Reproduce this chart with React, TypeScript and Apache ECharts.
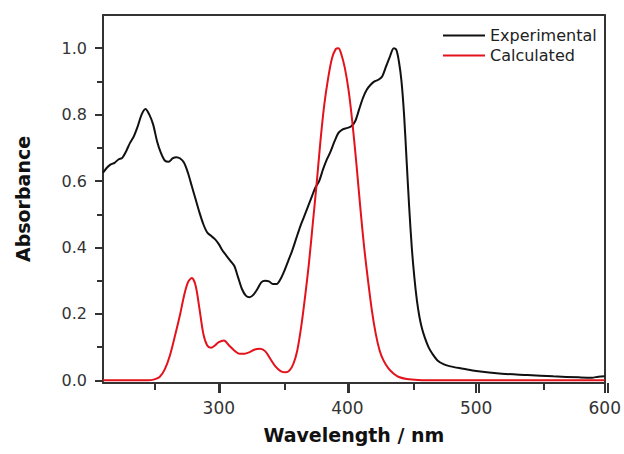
import React, { useEffect, useRef } from "react";
import * as echarts from "echarts";

const experimental: [number, number][] = [
  [210, 0.625], [213, 0.64], [216, 0.65], [219, 0.655], [222, 0.665], [225, 0.67], [228, 0.69],
  [231, 0.715], [234, 0.735], [237, 0.765], [240, 0.8], [243, 0.817], [246, 0.8], [249, 0.77],
  [252, 0.72], [255, 0.685], [258, 0.662], [261, 0.658], [264, 0.668], [267, 0.672], [270, 0.668],
  [273, 0.655], [276, 0.625], [279, 0.585], [282, 0.545], [285, 0.505], [288, 0.47], [291, 0.445],
  [294, 0.435], [297, 0.425], [300, 0.41], [303, 0.39], [306, 0.375], [309, 0.36], [312, 0.345],
  [315, 0.31], [318, 0.275], [321, 0.255], [324, 0.25], [327, 0.258], [330, 0.275], [333, 0.295],
  [336, 0.3], [339, 0.298], [342, 0.29], [345, 0.29], [348, 0.305], [351, 0.33], [354, 0.36],
  [357, 0.39], [360, 0.425], [363, 0.46], [366, 0.49], [369, 0.52], [372, 0.55], [375, 0.58],
  [378, 0.6], [381, 0.635], [384, 0.665], [387, 0.69], [390, 0.72], [393, 0.745], [396, 0.755],
  [400, 0.76], [403, 0.765], [406, 0.78], [409, 0.815], [412, 0.85], [415, 0.875], [418, 0.89],
  [421, 0.9], [424, 0.905], [427, 0.915], [430, 0.945], [433, 0.975], [436, 1.0], [438, 0.995],
  [440, 0.96], [442, 0.9], [444, 0.8], [446, 0.66], [448, 0.52], [450, 0.4], [452, 0.31],
  [454, 0.24], [456, 0.19], [458, 0.155], [460, 0.13], [463, 0.1], [466, 0.08], [470, 0.06],
  [475, 0.048], [480, 0.042], [490, 0.035], [500, 0.028], [520, 0.02], [540, 0.016], [560, 0.012],
  [580, 0.009], [590, 0.008], [595, 0.011], [600, 0.012],
];

const calculated: [number, number][] = [
  [210, 0], [245, 0], [250, 0.003], [254, 0.01], [258, 0.033], [262, 0.075], [266, 0.135],
  [270, 0.2], [273, 0.255], [276, 0.295], [279, 0.308], [282, 0.285], [285, 0.215], [288, 0.14],
  [291, 0.105], [294, 0.098], [297, 0.105], [300, 0.115], [304, 0.12], [308, 0.105], [312, 0.09],
  [316, 0.08], [320, 0.08], [324, 0.085], [328, 0.093], [332, 0.095], [336, 0.088], [340, 0.065],
  [344, 0.042], [348, 0.028], [352, 0.024], [355, 0.03], [358, 0.05], [361, 0.09], [364, 0.16],
  [367, 0.25], [370, 0.35], [373, 0.47], [376, 0.59], [379, 0.72], [382, 0.83], [385, 0.91],
  [388, 0.97], [391, 0.998], [393, 1.0], [395, 0.985], [398, 0.94], [401, 0.87], [404, 0.77],
  [407, 0.65], [410, 0.52], [413, 0.4], [416, 0.3], [419, 0.21], [422, 0.14], [425, 0.09],
  [428, 0.06], [432, 0.035], [436, 0.02], [440, 0.01], [446, 0.004], [455, 0.001], [470, 0],
  [600, 0],
];

const xMajorTicks = [300, 400, 500, 600];
const xMinorTicks = [250, 350, 450, 550];
const yMajorTicks = [0, 0.2, 0.4, 0.6, 0.8, 1.0];
const yMinorTicks = [0.1, 0.3, 0.5, 0.7, 0.9];

const AXIS = "#333";
const FONT = "DejaVu Sans";
const X_MIN = 210;
const X_MAX = 600;
const Y_MIN = -0.008;
const Y_MAX = 1.1;
const GRID_TOP = 15;
const GRID_BOTTOM = 71;
const CHART_H = 454;

export default function App() {
  const ref = useRef<HTMLDivElement>(null);
  useEffect(() => {
    if (!ref.current) return;
    const chart = echarts.init(ref.current, null, { renderer: "svg" });
    const frameX = {
      type: "value", min: X_MIN, max: X_MAX, position: "top", gridIndex: 0,
      axisLine: { show: true, onZero: false, lineStyle: { color: AXIS, width: 2 } },
      axisTick: { show: false }, axisLabel: { show: false }, splitLine: { show: false },
    };
    const frameY = {
      type: "value", min: Y_MIN, max: Y_MAX, position: "right", gridIndex: 0,
      axisLine: { show: true, onZero: false, lineStyle: { color: AXIS, width: 2 } },
      axisTick: { show: false }, axisLabel: { show: false }, splitLine: { show: false },
    };
    // tick strip: a thin grid right under the plot whose top axis carries the x ticks
    const tickX = (values: number[], length: number) => ({
      type: "value", min: X_MIN, max: X_MAX, position: "top", gridIndex: 1,
      axisLine: { show: false, onZero: false },
      axisTick: { show: true, inside: true, length, customValues: values, lineStyle: { color: AXIS, width: 2 } },
      axisLabel: { show: false }, splitLine: { show: false },
    });
    chart.setOption({
      animation: false,
      backgroundColor: "#fff",
      grid: [
        { left: 103, right: 16, top: GRID_TOP, bottom: GRID_BOTTOM },
        { left: 103, right: 16, top: CHART_H - GRID_BOTTOM, height: 10 },
      ],
      legend: {
        orient: "vertical",
        left: 443,
        top: 26,
        padding: 0,
        itemWidth: 42,
        itemHeight: 2,
        itemGap: 1,
        icon: "rect",
        textStyle: { fontFamily: FONT, fontSize: 16, color: "#222", lineHeight: 19 },
        data: ["Experimental", "Calculated"],
      },
      xAxis: [
        {
          type: "value", min: X_MIN, max: X_MAX, position: "bottom", gridIndex: 0,
          name: "Wavelength / nm", nameLocation: "middle", nameGap: 42,
          nameTextStyle: { fontFamily: FONT, fontSize: 19, fontWeight: "bold", color: "#111" },
          axisLine: { show: true, onZero: false, lineStyle: { color: AXIS, width: 2 } },
          axisTick: { show: true, inside: false, length: 10, customValues: xMajorTicks, lineStyle: { color: AXIS, width: 2 } },
          axisLabel: { customValues: xMajorTicks, margin: 16, fontFamily: FONT, fontSize: 17, color: "#333" },
          splitLine: { show: false },
        },
        tickX(xMajorTicks, 10),
        tickX(xMinorTicks, 7),
        frameX,
      ],
      yAxis: [
        {
          type: "value", min: Y_MIN, max: Y_MAX, position: "left", gridIndex: 0,
          name: "Absorbance", nameLocation: "middle", nameGap: 71, nameRotate: 90,
          nameTextStyle: { fontFamily: FONT, fontSize: 19, fontWeight: "bold", color: "#111" },
          axisLine: { show: true, onZero: false, lineStyle: { color: AXIS, width: 2 } },
          axisTick: { show: true, inside: false, length: 8, customValues: yMajorTicks, lineStyle: { color: AXIS, width: 2 } },
          axisLabel: {
            customValues: yMajorTicks, margin: 16, fontFamily: FONT, fontSize: 16, color: "#333",
            formatter: (v: number) => v.toFixed(1),
          },
          splitLine: { show: false },
        },
        {
          type: "value", min: Y_MIN, max: Y_MAX, position: "left", gridIndex: 0,
          axisLine: { show: false, onZero: false },
          axisTick: { show: true, inside: false, length: 6, customValues: yMinorTicks, lineStyle: { color: AXIS, width: 2 } },
          axisLabel: { show: false },
          splitLine: { show: false },
        },
        frameY,
        {
          type: "value", min: 0, max: 1, gridIndex: 1, show: false,
          axisLine: { show: false }, axisTick: { show: false }, axisLabel: { show: false }, splitLine: { show: false },
        },
      ],
      series: [
        {
          name: "Experimental", type: "line", data: experimental, smooth: 0.3,
          showSymbol: false, symbol: "none", xAxisIndex: 0, yAxisIndex: 0,
          lineStyle: { color: "#111", width: 2 }, itemStyle: { color: "#111" }, z: 3,
        },
        {
          name: "Calculated", type: "line", data: calculated, smooth: 0.3,
          showSymbol: false, symbol: "none", xAxisIndex: 0, yAxisIndex: 0,
          lineStyle: { color: "#e3121b", width: 2 }, itemStyle: { color: "#e3121b" }, z: 4,
        },
      ],
    });
    return () => chart.dispose();
  }, []);
  return (
    <div
      ref={ref}
      style={{ position: "fixed", left: 0, top: 0, width: 624, height: 454 }}
    />
  );
}
